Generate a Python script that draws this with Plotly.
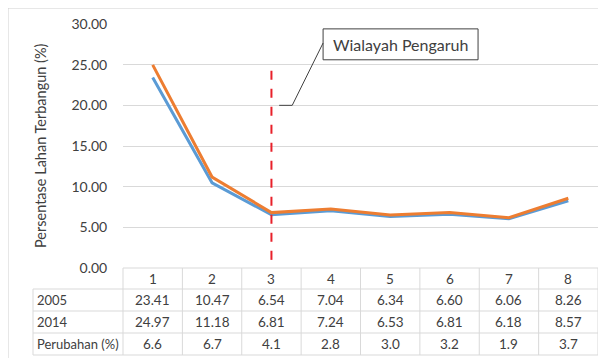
import plotly.graph_objects as go

# ---- data ----
categories = [1, 2, 3, 4, 5, 6, 7, 8]
series_2005 = [23.41, 10.47, 6.54, 7.04, 6.34, 6.60, 6.06, 8.26]
series_2014 = [24.97, 11.18, 6.81, 7.24, 6.53, 6.81, 6.18, 8.57]
perubahan = [6.6, 6.7, 4.1, 2.8, 3.0, 3.2, 1.9, 3.7]
row_labels = ["2005", "2014", "Perubahan (%)"]
y_ticks = [0, 5, 10, 15, 20, 25, 30]
callout_text = "Wialayah Pengaruh"
y_title = "Persentase Lahan Terbangun (%)"
influence_x = 3

# page body adds an 8px offset; size the figure to the visible area
OFF = 8
W, H = 606 - OFF, 358 - OFF
ML, MR, MT, MB = 123 - OFF, 8, 24 - OFF, 90
PW, PH = W - ML - MR, H - MT - MB

FONT = "Lato, Calibri, Carlito, sans-serif"
TXT = "#404040"
GRID = "#d9d9d9"
BLUE = "#5B9BD5"
ORANGE = "#ED7D31"

def py(p):  # screen pixel row -> paper y
    return (MT + PH - (p - OFF)) / PH

def px(p):  # screen pixel column -> paper x
    return (p - OFF - ML) / PW

fig = go.Figure()
fig.add_trace(go.Scatter(x=categories, y=series_2005, mode="lines", name="2005",
                         line=dict(color=BLUE, width=3), showlegend=False))
fig.add_trace(go.Scatter(x=categories, y=series_2014, mode="lines", name="2014",
                         line=dict(color=ORANGE, width=3), showlegend=False))

shapes = []
annotations = []

# red dashed influence line
shapes.append(dict(type="line", xref="x", yref="y", x0=influence_x, x1=influence_x,
                   y0=1.0, y1=24.7, line=dict(color="#E8202A", width=2, dash="dash")))

# callout box + leader line
shapes.append(dict(type="rect", xref="x", yref="y", x0=3.87, x1=6.48, y0=25.6, y1=29.4,
                   line=dict(color="#404040", width=1), fillcolor="white"))
shapes.append(dict(type="path", xref="x", yref="y",
                   path="M 3.87 27.66 L 3.35 20.0 L 3.13 20.0",
                   line=dict(color="#404040", width=1)))
annotations.append(dict(xref="x", yref="y", x=(3.87 + 6.48) / 2, y=27.5, text=callout_text,
                        showarrow=False, font=dict(size=16, color=TXT, family=FONT)))

# data table
n = len(categories)
row_px = [268, 289, 311, 333, 355]
left_px = 33
rows_py = [py(p) for p in row_px]
xl = px(left_px)

shapes.append(dict(type="line", xref="paper", yref="paper", x0=0, x1=1, y0=rows_py[0], y1=rows_py[0],
                   line=dict(color=GRID, width=1)))
for yp in rows_py[1:]:
    shapes.append(dict(type="line", xref="paper", yref="paper", x0=xl, x1=1, y0=yp, y1=yp,
                       line=dict(color=GRID, width=1)))
for i in range(n + 1):
    xp = i / n
    shapes.append(dict(type="line", xref="paper", yref="paper", x0=xp, x1=xp,
                       y0=rows_py[0], y1=rows_py[-1], line=dict(color=GRID, width=1)))
shapes.append(dict(type="line", xref="paper", yref="paper", x0=xl, x1=xl,
                   y0=rows_py[1], y1=rows_py[-1], line=dict(color=GRID, width=1)))

centers = [(rows_py[i] + rows_py[i + 1]) / 2 for i in range(4)]
table_rows = [[str(c) for c in categories],
              ["%.2f" % v for v in series_2005],
              ["%.2f" % v for v in series_2014],
              ["%.1f" % v for v in perubahan]]
for r, vals in enumerate(table_rows):
    for c, txt in zip(categories, vals):
        annotations.append(dict(xref="x", yref="paper", x=c, y=centers[r], text=txt,
                                xanchor="center", yanchor="middle",
                                showarrow=False, font=dict(size=13.5, color=TXT, family=FONT)))
for r, lab in enumerate(row_labels):
    annotations.append(dict(xref="paper", yref="paper", x=px(left_px + 2), y=centers[r + 1],
                            text=lab, showarrow=False, xanchor="left", yanchor="middle",
                            font=dict(size=13, color=TXT, family=FONT)))

# y-axis title
annotations.append(dict(xref="paper", yref="paper", x=px(40), y=0.5,
                        xanchor="center", yanchor="middle",
                        text=y_title, textangle=-90, showarrow=False,
                        font=dict(size=14.5, color=TXT, family=FONT)))

# outer chart border
shapes.append(dict(type="rect", xref="paper", yref="paper",
                   x0=px(8), x1=px(620), y0=py(380), y1=py(8),
                   line=dict(color="#d0d0d0", width=1)))

fig.update_layout(
    width=W, height=H,
    margin=dict(l=ML, r=MR, t=MT, b=MB),
    paper_bgcolor="white", plot_bgcolor="white",
    font=dict(family=FONT, size=13, color=TXT),
    xaxis=dict(range=[0.5, n + 0.5], showticklabels=False, showgrid=False,
               zeroline=False, ticks=""),
    yaxis=dict(range=[0, 30], tickvals=y_ticks, tickformat=".2f", showgrid=True,
               gridcolor=GRID, gridwidth=1, zeroline=False, ticks="outside", ticklen=12,
               tickcolor="rgba(0,0,0,0)", tickfont=dict(size=14, color=TXT)),
    shapes=shapes,
    annotations=annotations,
)

fig.write_html("out.html")
